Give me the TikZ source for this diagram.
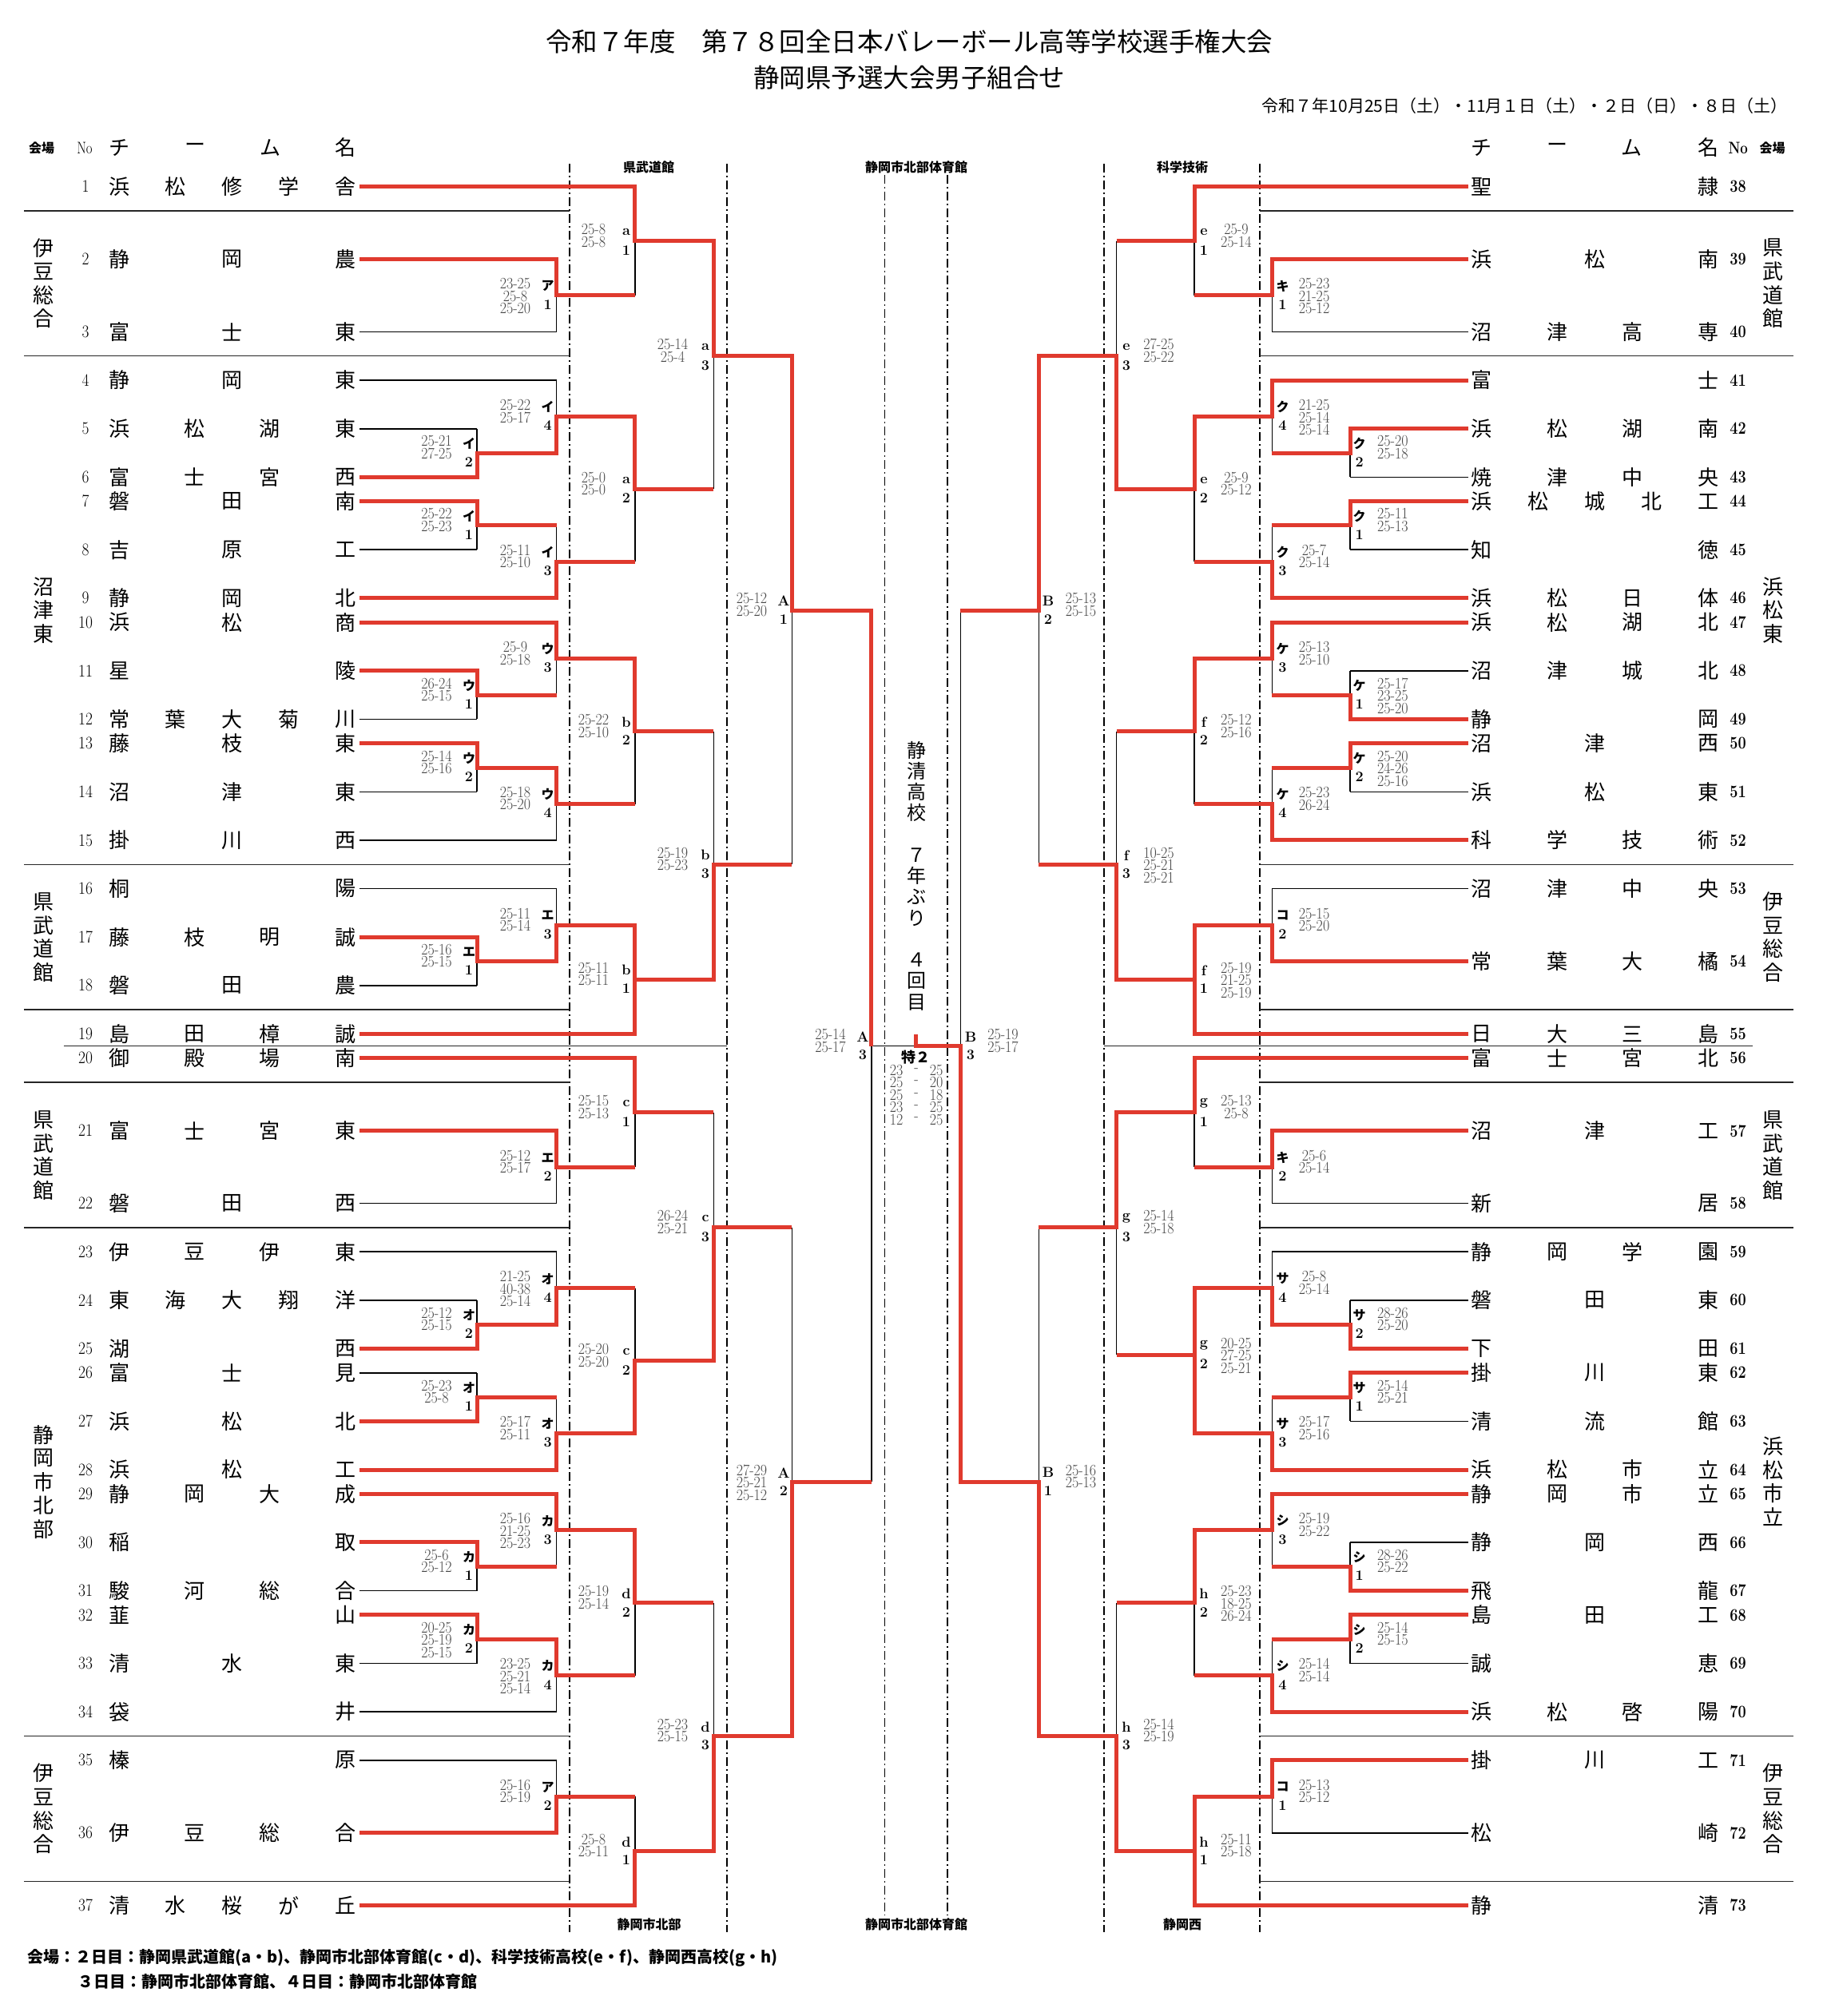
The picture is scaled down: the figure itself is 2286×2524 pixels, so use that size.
\documentclass[tikz,border=0pt]{standalone}
\usepackage{fontspec}
\newfontfamily\jp{Noto Sans CJK JP}
\pgfdeclarelayer{back}
\pgfdeclarelayer{bg}
\pgfsetlayers{back,bg,main}
\definecolor{rdc}{RGB}{224,58,46}
\newcommand\uy[1]{233.6+(#1)*30.31}
\def\xla{597}\def\xlb{696.5}\def\xlc{794.8}\def\xld{893.3}\def\xle{991.3}\def\xlf{1090.8}
\def\xra{1690}\def\xrb{1592.3}\def\xrc{1495}\def\xrd{1397.5}\def\xre{1300.3}\def\xrf{1202.3}
\def\xtr{1837.5}
\tikzset{
 blk/.style={line width=1.6pt,black},
 rd/.style={line width=5pt,rdc},
 sep/.style={line width=1.4pt,black!85},
 dsh/.style={line width=1.5pt,black,dash pattern=on 11pt off 4pt on 2pt off 4pt},
 tname/.style={font=\jp\fontsize{26}{26}\selectfont,inner sep=0pt},
 venue/.style={font=\jp\fontsize{26}{26}\selectfont,inner sep=0pt},
 numl/.style={font=\fontsize{22}{22}\selectfont,inner sep=0pt,xscale=0.88},
 numr/.style={font=\bfseries\fontsize{22}{22}\selectfont,inner sep=0pt,xscale=0.82},
 kana/.style={font=\jp\bfseries\fontsize{16}{16}\selectfont,inner sep=0pt},
 lnum/.style={font=\bfseries\fontsize{18}{18}\selectfont,inner sep=0pt},
 score/.style={font=\fontsize{20}{20}\selectfont,text=black!72,inner sep=0pt,xscale=0.9},
 hdr/.style={font=\jp\bfseries\fontsize{16}{16}\selectfont,inner sep=0pt},
}
\newcommand\teamL[5]{%
 \node[numl] (tl#1) at (107,{\uy{#2}}) {#1};
 \foreach \c [count=\i from 0] in {#4} {\node[tname] at ({149+\i*283/(#3-1)},{\uy{#2}}) {\c};}
 \begin{pgfonlayer}{bg}\draw[blk] (450,{\uy{#2}}) -- (#5,{\uy{#2}});\end{pgfonlayer}}
\newcommand\teamR[5]{%
 \node[numr] (tr#1) at (2175.6,{\uy{#2}}) {#1};
 \foreach \c [count=\i from 0] in {#4} {\node[tname] at ({1854.6+\i*283.4/(#3-1)},{\uy{#2}}) {\c};}
 \begin{pgfonlayer}{bg}\draw[blk] (\xtr,{\uy{#2}}) -- (#5,{\uy{#2}});\end{pgfonlayer}}
\newcommand\mt[7]{%
 \begin{pgfonlayer}{bg}\draw[blk] (#1,{\uy{#3}}) -- (#1,{\uy{#4}});\end{pgfonlayer}
 \draw[rd] (#7,{\uy{#6}}) -- (#1,{\uy{#6}}) -- (#1,{\uy{#5}}) -- (#2,{\uy{#5}});}
\newcommand\lbk[4]{\node[kana] at (#1,{\uy{#2}-11.8}) {#3}; \node[lnum] at (#1,{\uy{#2}+11.5}) {#4};}
\newcommand\lbl[4]{\node[lnum] at (#1,{\uy{#2}-11.5}) {#3}; \node[lnum] at (#1,{\uy{#2}+11.5}) {#4};}
\newcommand\scores[3]{\foreach \s [count=\k from 0] in {#3} {\node[score] at (#1,{\uy{#2}-14.5+15.5*\k}) {\s};}}
\newcommand\venue[4]{\foreach \c [count=\i from 0] in {#4} {\node[venue] at (#1,{\uy{#2}+(\i-(#3-1)/2)*29.5}) {\c};}}
\begin{document}
\begin{tikzpicture}[x=1pt,y=-1pt]
\begin{pgfonlayer}{back}\fill[white] (0,0) rectangle (2286,2524);\end{pgfonlayer}
\useasboundingbox (0,0) rectangle (2286,2524);
% titles
\node[font=\jp\fontsize{32.5}{32.5}\selectfont,inner sep=0] (title) at (1138,52.6) {令和７年度　第７８回全日本バレーボール高等学校選手権大会};
\node[font=\jp\fontsize{32.5}{32.5}\selectfont,inner sep=0] (sub) at (1138,96.8) {静岡県予選大会男子組合せ};
\node[font=\jp\fontsize{21}{21}\selectfont,anchor=east,inner sep=0] (date) at (2238,132.6) {令和７年10月25日（土）・11月１日（土）・２日（日）・８日（土）};
% header
\node[hdr] (h1) at (52,185) {会場};
\node[font=\fontsize{21}{21}\selectfont,inner sep=0,xscale=0.8] (h2) at (106,185) {No};
\node[tname] (h3) at (149,185) {チ}; \node[tname] (h4) at (244,185) {ー};
\node[tname] (h5) at (338,185) {ム}; \node[tname] (h6) at (432,185) {名};
\node[tname] (h7) at (1854.6,185) {チ}; \node[tname] (h8) at (1949,185) {ー};
\node[tname] (h9) at (2042.7,185) {ム}; \node[tname] (h10) at (2138,185) {名};
\node[font=\bfseries\fontsize{21}{21}\selectfont,inner sep=0,xscale=0.8] (h11) at (2175.6,185) {No};
\node[hdr] (h12) at (2218.6,185) {会場};
\node[hdr] (v1) at (812,209) {県武道館};
\node[hdr] (v2) at (1147,209) {静岡市北部体育館};
\node[hdr] (v3) at (1480,209) {科学技術};
\node[hdr] (v4) at (812.7,2409) {静岡市北部};
\node[hdr] (v5) at (1147,2409) {静岡市北部体育館};
\node[hdr] (v6) at (1480,2409) {静岡西};
% dashed column lines and separators
\begin{pgfonlayer}{bg}
\foreach \x in {713,910.2,1381.9,1577.2} \draw[dsh] (\x,205) -- (\x,2419);
\foreach \x in {1107.3,1185.9} \draw[dsh] (\x,219) -- (\x,2398);
\foreach \u in {1,7,28,34,37,43,64,70} {\draw[sep] (30,{\uy{\u}}) -- (713,{\uy{\u}}); \draw[sep] (1577.2,{\uy{\u}}) -- (2245.4,{\uy{\u}});}
\draw[sep] (79.6,{\uy{35.5}}) -- (910.2,{\uy{35.5}});
\draw[sep] (1381.9,{\uy{35.5}}) -- (2194,{\uy{35.5}});
\end{pgfonlayer}
% venues
\venue{54}{4}{4}{伊,豆,総,合}
\venue{54}{17.5}{3}{沼,津,東}
\venue{54}{31}{4}{県,武,道,館}
\venue{54}{40}{4}{県,武,道,館}
\venue{54}{53.5}{5}{静,岡,市,北,部}
\venue{54}{67}{4}{伊,豆,総,合}
\venue{2219.6}{4}{4}{県,武,道,館}
\venue{2219.6}{17.5}{3}{浜,松,東}
\venue{2219.6}{31}{4}{伊,豆,総,合}
\venue{2219.6}{40}{4}{県,武,道,館}
\venue{2219.6}{53.5}{4}{浜,松,市,立}
\venue{2219.6}{67}{4}{伊,豆,総,合}
% left teams
\teamL{1}{0}{5}{浜,松,修,学,舎}{\xlc}
\teamL{2}{3}{3}{静,岡,農}{\xlb}
\teamL{3}{6}{3}{富,士,東}{\xlb}
\teamL{4}{8}{3}{静,岡,東}{\xlb}
\teamL{5}{10}{4}{浜,松,湖,東}{\xla}
\teamL{6}{12}{4}{富,士,宮,西}{\xla}
\teamL{7}{13}{3}{磐,田,南}{\xla}
\teamL{8}{15}{3}{吉,原,工}{\xla}
\teamL{9}{17}{3}{静,岡,北}{\xlb}
\teamL{10}{18}{3}{浜,松,商}{\xlb}
\teamL{11}{20}{2}{星,陵}{\xla}
\teamL{12}{22}{5}{常,葉,大,菊,川}{\xla}
\teamL{13}{23}{3}{藤,枝,東}{\xla}
\teamL{14}{25}{3}{沼,津,東}{\xla}
\teamL{15}{27}{3}{掛,川,西}{\xlb}
\teamL{16}{29}{2}{桐,陽}{\xlb}
\teamL{17}{31}{4}{藤,枝,明,誠}{\xla}
\teamL{18}{33}{3}{磐,田,農}{\xla}
\teamL{19}{35}{4}{島,田,樟,誠}{\xlc}
\teamL{20}{36}{4}{御,殿,場,南}{\xlc}
\teamL{21}{39}{4}{富,士,宮,東}{\xlb}
\teamL{22}{42}{3}{磐,田,西}{\xlb}
\teamL{23}{44}{4}{伊,豆,伊,東}{\xlb}
\teamL{24}{46}{5}{東,海,大,翔,洋}{\xla}
\teamL{25}{48}{2}{湖,西}{\xla}
\teamL{26}{49}{3}{富,士,見}{\xla}
\teamL{27}{51}{3}{浜,松,北}{\xla}
\teamL{28}{53}{3}{浜,松,工}{\xlb}
\teamL{29}{54}{4}{静,岡,大,成}{\xlb}
\teamL{30}{56}{2}{稲,取}{\xla}
\teamL{31}{58}{4}{駿,河,総,合}{\xla}
\teamL{32}{59}{2}{韮,山}{\xla}
\teamL{33}{61}{3}{清,水,東}{\xla}
\teamL{34}{63}{2}{袋,井}{\xlb}
\teamL{35}{65}{2}{榛,原}{\xlb}
\teamL{36}{68}{4}{伊,豆,総,合}{\xlb}
\teamL{37}{71}{5}{清,水,桜,が,丘}{\xlc}
% right teams
\teamR{38}{0}{2}{聖,隷}{\xrc}
\teamR{39}{3}{3}{浜,松,南}{\xrb}
\teamR{40}{6}{4}{沼,津,高,専}{\xrb}
\teamR{41}{8}{2}{富,士}{\xrb}
\teamR{42}{10}{4}{浜,松,湖,南}{\xra}
\teamR{43}{12}{4}{焼,津,中,央}{\xra}
\teamR{44}{13}{5}{浜,松,城,北,工}{\xra}
\teamR{45}{15}{2}{知,徳}{\xra}
\teamR{46}{17}{4}{浜,松,日,体}{\xrb}
\teamR{47}{18}{4}{浜,松,湖,北}{\xrb}
\teamR{48}{20}{4}{沼,津,城,北}{\xra}
\teamR{49}{22}{2}{静,岡}{\xra}
\teamR{50}{23}{3}{沼,津,西}{\xra}
\teamR{51}{25}{3}{浜,松,東}{\xra}
\teamR{52}{27}{4}{科,学,技,術}{\xrb}
\teamR{53}{29}{4}{沼,津,中,央}{\xrb}
\teamR{54}{32}{4}{常,葉,大,橘}{\xrb}
\teamR{55}{35}{4}{日,大,三,島}{\xrc}
\teamR{56}{36}{4}{富,士,宮,北}{\xrc}
\teamR{57}{39}{3}{沼,津,工}{\xrb}
\teamR{58}{42}{2}{新,居}{\xrb}
\teamR{59}{44}{4}{静,岡,学,園}{\xrb}
\teamR{60}{46}{3}{磐,田,東}{\xra}
\teamR{61}{48}{2}{下,田}{\xra}
\teamR{62}{49}{3}{掛,川,東}{\xra}
\teamR{63}{51}{3}{清,流,館}{\xra}
\teamR{64}{53}{4}{浜,松,市,立}{\xrb}
\teamR{65}{54}{4}{静,岡,市,立}{\xrb}
\teamR{66}{56}{3}{静,岡,西}{\xra}
\teamR{67}{58}{2}{飛,龍}{\xra}
\teamR{68}{59}{3}{島,田,工}{\xra}
\teamR{69}{61}{2}{誠,恵}{\xra}
\teamR{70}{63}{4}{浜,松,啓,陽}{\xrb}
\teamR{71}{65}{3}{掛,川,工}{\xrb}
\teamR{72}{68}{2}{松,崎}{\xrb}
\teamR{73}{71}{2}{静,清}{\xrc}
% left matches round 0
\mt{\xla}{\xlb}{10}{12}{11}{12}{450}
\mt{\xla}{\xlb}{13}{15}{14}{13}{450}
\mt{\xla}{\xlb}{20}{22}{21}{20}{450}
\mt{\xla}{\xlb}{23}{25}{24}{23}{450}
\mt{\xla}{\xlb}{31}{33}{32}{31}{450}
\mt{\xla}{\xlb}{46}{48}{47}{48}{450}
\mt{\xla}{\xlb}{49}{51}{50}{51}{450}
\mt{\xla}{\xlb}{56}{58}{57}{56}{450}
\mt{\xla}{\xlb}{59}{61}{60}{59}{450}
% left round 1
\mt{\xlb}{\xlc}{3}{6}{4.5}{3}{450}
\mt{\xlb}{\xlc}{8}{11}{9.5}{11}{\xla}
\mt{\xlb}{\xlc}{14}{17}{15.5}{17}{450}
\mt{\xlb}{\xlc}{18}{21}{19.5}{18}{450}
\mt{\xlb}{\xlc}{24}{27}{25.5}{24}{\xla}
\mt{\xlb}{\xlc}{29}{32}{30.5}{32}{\xla}
\mt{\xlb}{\xlc}{39}{42}{40.5}{39}{450}
\mt{\xlb}{\xlc}{44}{47}{45.5}{47}{\xla}
\mt{\xlb}{\xlc}{50}{53}{51.5}{53}{450}
\mt{\xlb}{\xlc}{54}{57}{55.5}{54}{450}
\mt{\xlb}{\xlc}{60}{63}{61.5}{60}{\xla}
\mt{\xlb}{\xlc}{65}{68}{66.5}{68}{450}
% left round 2
\mt{\xlc}{\xld}{0}{4.5}{2.25}{0}{450}
\mt{\xlc}{\xld}{9.5}{15.5}{12.5}{9.5}{\xlb}
\mt{\xlc}{\xld}{19.5}{25.5}{22.5}{19.5}{\xlb}
\mt{\xlc}{\xld}{30.5}{35}{32.75}{35}{450}
\mt{\xlc}{\xld}{36}{40.5}{38.25}{36}{450}
\mt{\xlc}{\xld}{45.5}{51.5}{48.5}{51.5}{\xlb}
\mt{\xlc}{\xld}{55.5}{61.5}{58.5}{55.5}{\xlb}
\mt{\xlc}{\xld}{66.5}{71}{68.75}{71}{450}
\draw[rd] (\xlb,{\uy{30.5}}) -- (\xlc,{\uy{30.5}}) -- (\xlc,{\uy{35}}) -- (450,{\uy{35}});
% left round 3
\mt{\xld}{\xle}{2.25}{12.5}{7}{2.25}{\xlc}
\mt{\xld}{\xle}{22.5}{32.75}{28}{32.75}{\xlc}
\mt{\xld}{\xle}{38.25}{48.5}{43}{48.5}{\xlc}
\mt{\xld}{\xle}{58.5}{68.75}{64}{68.75}{\xlc}
% left round 4
\mt{\xle}{\xlf}{7}{28}{17.5}{7}{\xld}
\mt{\xle}{\xlf}{43}{64}{53.5}{64}{\xld}
% right round 0
\mt{\xra}{\xrb}{10}{12}{11}{10}{\xtr}
\mt{\xra}{\xrb}{13}{15}{14}{13}{\xtr}
\mt{\xra}{\xrb}{20}{22}{21}{22}{\xtr}
\mt{\xra}{\xrb}{23}{25}{24}{23}{\xtr}
\mt{\xra}{\xrb}{46}{48}{47}{48}{\xtr}
\mt{\xra}{\xrb}{49}{51}{50}{49}{\xtr}
\mt{\xra}{\xrb}{56}{58}{57}{58}{\xtr}
\mt{\xra}{\xrb}{59}{61}{60}{59}{\xtr}
% right round 1
\mt{\xrb}{\xrc}{3}{6}{4.5}{3}{\xtr}
\mt{\xrb}{\xrc}{8}{11}{9.5}{8}{\xtr}
\mt{\xrb}{\xrc}{14}{17}{15.5}{17}{\xtr}
\mt{\xrb}{\xrc}{18}{21}{19.5}{18}{\xtr}
\mt{\xrb}{\xrc}{24}{27}{25.5}{27}{\xtr}
\mt{\xrb}{\xrc}{29}{32}{30.5}{32}{\xtr}
\mt{\xrb}{\xrc}{39}{42}{40.5}{39}{\xtr}
\mt{\xrb}{\xrc}{44}{47}{45.5}{47}{\xra}
\mt{\xrb}{\xrc}{50}{53}{51.5}{53}{\xtr}
\mt{\xrb}{\xrc}{54}{57}{55.5}{54}{\xtr}
\mt{\xrb}{\xrc}{60}{63}{61.5}{63}{\xtr}
\mt{\xrb}{\xrc}{65}{68}{66.5}{65}{\xtr}
% right round 2
\mt{\xrc}{\xrd}{0}{4.5}{2.25}{0}{\xtr}
\mt{\xrc}{\xrd}{9.5}{15.5}{12.5}{9.5}{\xrb}
\mt{\xrc}{\xrd}{19.5}{25.5}{22.5}{19.5}{\xrb}
\mt{\xrc}{\xrd}{30.5}{35}{32.75}{35}{\xtr}
\mt{\xrc}{\xrd}{36}{40.5}{38.25}{36}{\xtr}
\mt{\xrc}{\xrd}{45.5}{51.5}{48.25}{45.5}{\xrb}
\mt{\xrc}{\xrd}{55.5}{61.5}{58.5}{55.5}{\xrb}
\mt{\xrc}{\xrd}{66.5}{71}{68.75}{71}{\xtr}
\draw[rd] (\xrb,{\uy{30.5}}) -- (\xrc,{\uy{30.5}}) -- (\xrc,{\uy{35}}) -- (\xtr,{\uy{35}});
\draw[rd] (\xrb,{\uy{45.5}}) -- (\xrc,{\uy{45.5}}) -- (\xrc,{\uy{51.5}}) -- (\xrb,{\uy{51.5}});
\draw[rd] (\xrb,{\uy{66.5}}) -- (\xrc,{\uy{66.5}}) -- (\xrc,{\uy{71}}) -- (\xtr,{\uy{71}});
% right round 3
\mt{\xrd}{\xre}{2.25}{12.5}{7}{12.5}{\xrc}
\mt{\xrd}{\xre}{22.5}{32.75}{28}{32.75}{\xrc}
\mt{\xrd}{\xre}{38.25}{48.25}{43}{38.25}{\xrc}
\mt{\xrd}{\xre}{58.5}{68.75}{64}{68.75}{\xrc}
% right round 4
\mt{\xre}{\xrf}{7}{28}{17.5}{7}{\xrd}
\mt{\xre}{\xrf}{43}{64}{53.5}{64}{\xrd}
% final
\begin{pgfonlayer}{bg}
\draw[blk] (\xlf,{\uy{17.5}}) -- (\xlf,{\uy{53.5}});
\draw[blk] (\xlf,{\uy{35.5}}) -- (1146.6,{\uy{35.5}});
\draw[blk] (\xrf,{\uy{17.5}}) -- (\xrf,{\uy{53.5}});
\end{pgfonlayer}
\draw[rd] (\xle,{\uy{17.5}}) -- (\xlf,{\uy{17.5}}) -- (\xlf,{\uy{35.5}});
\draw[rd] (\xre,{\uy{53.5}}) -- (\xrf,{\uy{53.5}}) -- (\xrf,{\uy{35.5}}) -- (1146.6,{\uy{35.5}}) -- (1146.6,{\uy{35.5}-15});
% labels left
\lbk{587}{11}{イ}{2} \lbk{587}{14}{イ}{1} \lbk{587}{21}{ウ}{1} \lbk{587}{24}{ウ}{2}
\lbk{587}{32}{エ}{1} \lbk{587}{47}{オ}{2} \lbk{587}{50}{オ}{1} \lbk{587}{57}{カ}{1} \lbk{587}{60}{カ}{2}
\lbk{685.6}{4.5}{ア}{1} \lbk{685.6}{9.5}{イ}{4} \lbk{685.6}{15.5}{イ}{3} \lbk{685.6}{19.5}{ウ}{3}
\lbk{685.6}{25.5}{ウ}{4} \lbk{685.6}{30.5}{エ}{3} \lbk{685.6}{40.5}{エ}{2} \lbk{685.6}{45.5}{オ}{4}
\lbk{685.6}{51.5}{オ}{3} \lbk{685.6}{55.5}{カ}{3} \lbk{685.6}{61.5}{カ}{4} \lbk{685.6}{66.5}{ア}{2}
\lbl{784}{2.25}{a}{1} \lbl{784}{12.5}{a}{2} \lbl{784}{22.5}{b}{2} \lbl{784}{32.75}{b}{1}
\lbl{784}{38.25}{c}{1} \lbl{784}{48.5}{c}{2} \lbl{784}{58.5}{d}{2} \lbl{784}{68.75}{d}{1}
\lbl{883}{7}{a}{3} \lbl{883}{28}{b}{3} \lbl{883}{43}{c}{3} \lbl{883}{64}{d}{3}
\lbl{981}{17.5}{A}{1} \lbl{981}{53.5}{A}{2} \lbl{1080}{35.5}{A}{3}
% labels right
\lbk{1701.7}{11}{ク}{2} \lbk{1701.7}{14}{ク}{1} \lbk{1701.7}{21}{ケ}{1} \lbk{1701.7}{24}{ケ}{2}
\lbk{1701.7}{47}{サ}{2} \lbk{1701.7}{50}{サ}{1} \lbk{1701.7}{57}{シ}{1} \lbk{1701.7}{60}{シ}{2}
\lbk{1605.5}{4.5}{キ}{1} \lbk{1605.5}{9.5}{ク}{4} \lbk{1605.5}{15.5}{ク}{3} \lbk{1605.5}{19.5}{ケ}{3}
\lbk{1605.5}{25.5}{ケ}{4} \lbk{1605.5}{30.5}{コ}{2} \lbk{1605.5}{40.5}{キ}{2} \lbk{1605.5}{45.5}{サ}{4}
\lbk{1605.5}{51.5}{サ}{3} \lbk{1605.5}{55.5}{シ}{3} \lbk{1605.5}{61.5}{シ}{4} \lbk{1605.5}{66.5}{コ}{1}
\lbl{1507}{2.25}{e}{1} \lbl{1507}{12.5}{e}{2} \lbl{1507}{22.5}{f}{2} \lbl{1507}{32.75}{f}{1}
\lbl{1507}{38.25}{g}{1} \lbl{1507}{48.25}{g}{2} \lbl{1507}{58.5}{h}{2} \lbl{1507}{68.75}{h}{1}
\lbl{1410}{7}{e}{3} \lbl{1410}{28}{f}{3} \lbl{1410}{43}{g}{3} \lbl{1410}{64}{h}{3}
\lbl{1312}{17.5}{B}{2} \lbl{1312}{53.5}{B}{1} \lbl{1215}{35.5}{B}{3}
% scores left
\scores{546.5}{11}{25-21,27-25} \scores{546.5}{14}{25-22,25-23} \scores{546.5}{21}{26-24,25-15}
\scores{546.5}{24}{25-14,25-16} \scores{546.5}{32}{25-16,25-15} \scores{546.5}{47}{25-12,25-15}
\scores{546.5}{50}{25-23,25-8} \scores{546.5}{57}{25-6,25-12} \scores{546.5}{60}{20-25,25-19,25-15}
\scores{645}{4.5}{23-25,25-8,25-20} \scores{645}{9.5}{25-22,25-17} \scores{645}{15.5}{25-11,25-10}
\scores{645}{19.5}{25-9,25-18} \scores{645}{25.5}{25-18,25-20} \scores{645}{30.5}{25-11,25-14}
\scores{645}{40.5}{25-12,25-17} \scores{645}{45.5}{21-25,40-38,25-14} \scores{645}{51.5}{25-17,25-11}
\scores{645}{55.5}{25-16,21-25,25-23} \scores{645}{61.5}{23-25,25-21,25-14} \scores{645}{66.5}{25-16,25-19}
\scores{743}{2.25}{25-8,25-8} \scores{743}{12.5}{25-0,25-0} \scores{743}{22.5}{25-22,25-10}
\scores{743}{32.75}{25-11,25-11} \scores{743}{38.25}{25-15,25-13} \scores{743}{48.5}{25-20,25-20}
\scores{743}{58.5}{25-19,25-14} \scores{743}{68.75}{25-8,25-11}
\scores{842}{7}{25-14,25-4} \scores{842}{28}{25-19,25-23} \scores{842}{43}{26-24,25-21} \scores{842}{64}{25-23,25-15}
\scores{941}{17.5}{25-12,25-20} \scores{941}{53.5}{27-29,25-21,25-12}
\scores{1039.5}{35.5}{25-14,25-17}
% scores right
\scores{1743.3}{11}{25-20,25-18} \scores{1743.3}{14}{25-11,25-13} \scores{1743.3}{21}{25-17,23-25,25-20}
\scores{1743.3}{24}{25-20,24-26,25-16} \scores{1743.3}{47}{28-26,25-20} \scores{1743.3}{50}{25-14,25-21}
\scores{1743.3}{57}{28-26,25-22} \scores{1743.3}{60}{25-14,25-15}
\scores{1645}{4.5}{25-23,21-25,25-12} \scores{1645}{9.5}{21-25,25-14,25-14} \scores{1645}{15.5}{25-7,25-14}
\scores{1645}{19.5}{25-13,25-10} \scores{1645}{25.5}{25-23,26-24} \scores{1645}{30.5}{25-15,25-20}
\scores{1645}{40.5}{25-6,25-14} \scores{1645}{45.5}{25-8,25-14} \scores{1645}{51.5}{25-17,25-16}
\scores{1645}{55.5}{25-19,25-22} \scores{1645}{61.5}{25-14,25-14} \scores{1645}{66.5}{25-13,25-12}
\scores{1547.4}{2.25}{25-9,25-14} \scores{1547.4}{12.5}{25-9,25-12} \scores{1547.4}{22.5}{25-12,25-16}
\scores{1547.4}{32.75}{25-19,21-25,25-19} \scores{1547.4}{38.25}{25-13,25-8} \scores{1547.4}{48.25}{20-25,27-25,25-21}
\scores{1547.4}{58.5}{25-23,18-25,26-24} \scores{1547.4}{68.75}{25-11,25-18}
\scores{1450.5}{7}{27-25,25-22} \scores{1450.5}{28}{10-25,25-21,25-21} \scores{1450.5}{43}{25-14,25-18} \scores{1450.5}{64}{25-14,25-19}
\scores{1353}{17.5}{25-13,25-15} \scores{1353}{53.5}{25-16,25-13}
\scores{1255.5}{35.5}{25-19,25-17}
% final centre
\node[font=\jp\bfseries\fontsize{18}{18}\selectfont,inner sep=0] (toku) at (1146,1324) {特２};
\foreach \a/\b [count=\k from 0] in {23/25,25/20,25/18,23/25,12/25} {
 \node[score] at (1122,{1340+15.4*\k}) {\a};
 \node[score] at (1147,{1340+15.4*\k}) {-};
 \node[score] at (1172,{1340+15.4*\k}) {\b};}
\foreach \c/\yy in {静/939,清/965.3,高/991.6,校/1017.9,７/1070.5,年/1096.8,ぶ/1123.1,り/1149.4,４/1202,回/1228.3,目/1254.6}
 {\node[font=\jp\fontsize{24}{24}\selectfont,inner sep=0] at (1147,\yy) {\c};}
% footer
\node[font=\jp\bfseries\fontsize{20}{20}\selectfont,anchor=west,inner sep=0] (f1) at (34,2450.8) {会場：２日目：静岡県武道館(a・b)、静岡市北部体育館(c・d)、科学技術高校(e・f)、静岡西高校(g・h)};
\node[font=\jp\bfseries\fontsize{20}{20}\selectfont,anchor=west,inner sep=0] (f2) at (97,2480.5) {３日目：静岡市北部体育館、４日目：静岡市北部体育館};
\end{tikzpicture}
\end{document}
